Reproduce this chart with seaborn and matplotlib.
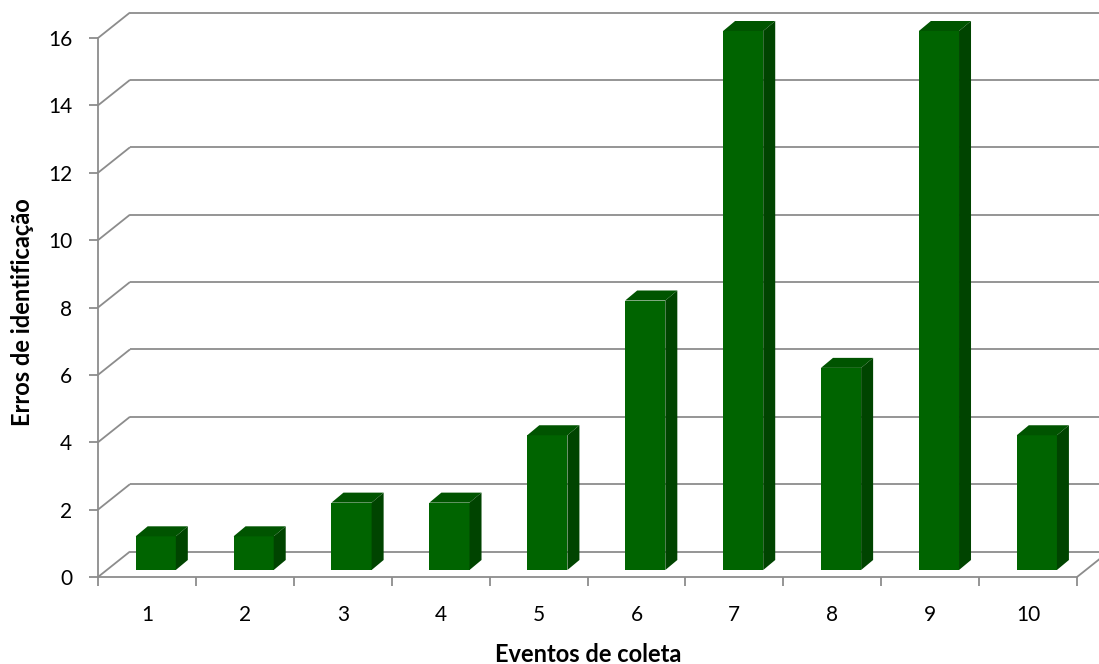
import numpy as np
import pandas as pd
import matplotlib
matplotlib.use("Agg")
import matplotlib.pyplot as plt
from matplotlib.patches import Polygon
from matplotlib.transforms import ScaledTranslation
import seaborn as sns

# Data
eventos = ["1", "2", "3", "4", "5", "6", "7", "8", "9", "10"]
erros = [1, 1, 2, 2, 4, 8, 16, 6, 16, 4]
y_ticks = [0, 2, 4, 6, 8, 10, 12, 14, 16]

# Colours
FRONT = "#006400"
SIDE = "#004400"
TOP = "#005400"
GRID = "#8c8c8c"

sns.set_theme(style="white")
plt.rcParams["font.family"] = ["Lato", "DejaVu Sans"]

W, H, DPI = 1099, 664, 100
fig = plt.figure(figsize=(W / DPI, H / DPI), dpi=DPI)
ax = fig.add_axes([98 / W, 87 / H, 979 / W, 539 / H])

df = pd.DataFrame({"Evento": eventos, "Erros": erros})
sns.barplot(data=df, x="Evento", y="Erros", color=FRONT, width=0.41,
            saturation=1, ax=ax, zorder=3, linewidth=0)

xmin, xmax = -0.5, len(eventos) - 0.5
ymax = y_ticks[-1]
ax.set_xlim(xmin, xmax)
ax.set_ylim(0, ymax)

# pixel sizes of one data unit
px_x = 979 / (xmax - xmin)
px_y = 539 / ymax

# depth of the back wall and of the bars (pseudo-3D)
wall_dx, wall_dy = 32 / px_x, 25.5 / px_y
side_dx, side_dy = 12 / px_x, 10 / px_y
bar_shift = ax.transData + ScaledTranslation(8.8 / DPI, 7 / DPI, fig.dpi_scale_trans)

# back wall gridlines with the diagonal joining them to the front axis
for yt in y_ticks:
    ax.plot([xmin, xmin + wall_dx], [yt, yt + wall_dy], color=GRID, lw=1.3,
            clip_on=False, zorder=1, solid_capstyle="butt")
    ax.plot([xmin + wall_dx, xmax + wall_dx + 1], [yt + wall_dy] * 2, color=GRID,
            lw=1.3, clip_on=False, zorder=1, solid_capstyle="butt")
# right edge of the floor
ax.plot([xmax, xmax + wall_dx], [0, wall_dy], color=GRID, lw=1.3,
        clip_on=False, zorder=1)

# bar faces
for p in list(ax.patches):
    x0, w, h = p.get_x(), p.get_width(), p.get_height()
    p.set_transform(bar_shift)
    p.set_clip_on(False)
    top = Polygon([(x0, h), (x0 + w, h), (x0 + w + side_dx, h + side_dy),
                   (x0 + side_dx, h + side_dy)], closed=True, facecolor=TOP,
                  edgecolor="none", transform=bar_shift, clip_on=False, zorder=3)
    side = Polygon([(x0 + w, 0), (x0 + w + side_dx, side_dy),
                    (x0 + w + side_dx, h + side_dy), (x0 + w, h)], closed=True,
                   facecolor=SIDE, edgecolor="none", transform=bar_shift,
                   clip_on=False, zorder=3)
    ax.add_patch(top)
    ax.add_patch(side)

# axes styling
for s in ["top", "right"]:
    ax.spines[s].set_visible(False)
for s in ["left", "bottom"]:
    ax.spines[s].set_color(GRID)
    ax.spines[s].set_linewidth(1.3)
    ax.spines[s].set_zorder(4)

ax.set_yticks(y_ticks)
ax.set_xticks(range(len(eventos)))
ax.set_xticklabels(eventos)
ax.set_xticks(np.arange(xmin, xmax + 0.01, 1), minor=True)
ax.tick_params(axis="y", which="major", left=True, length=6.5, width=1.3,
               color=GRID, pad=12, labelsize=15, labelcolor="black")
ax.tick_params(axis="x", which="major", bottom=True, length=0, pad=20,
               labelsize=15, labelcolor="black")
ax.tick_params(axis="x", which="minor", bottom=True, length=6.5, width=1.3,
               color=GRID)

ax.set_xlabel("Eventos de coleta", fontsize=17, fontweight="bold", color="black")
ax.set_ylabel("Erros de identificação", fontsize=17, fontweight="bold", color="black")
ax.xaxis.set_label_coords((588 - 98) / 979, (577 - 654) / 539)
ax.yaxis.set_label_coords((23 - 98) / 979, (577 - 312) / 539)
ax.xaxis.label.set_va("center")
ax.yaxis.label.set_va("center")

fig.savefig("out.png", dpi=DPI)
